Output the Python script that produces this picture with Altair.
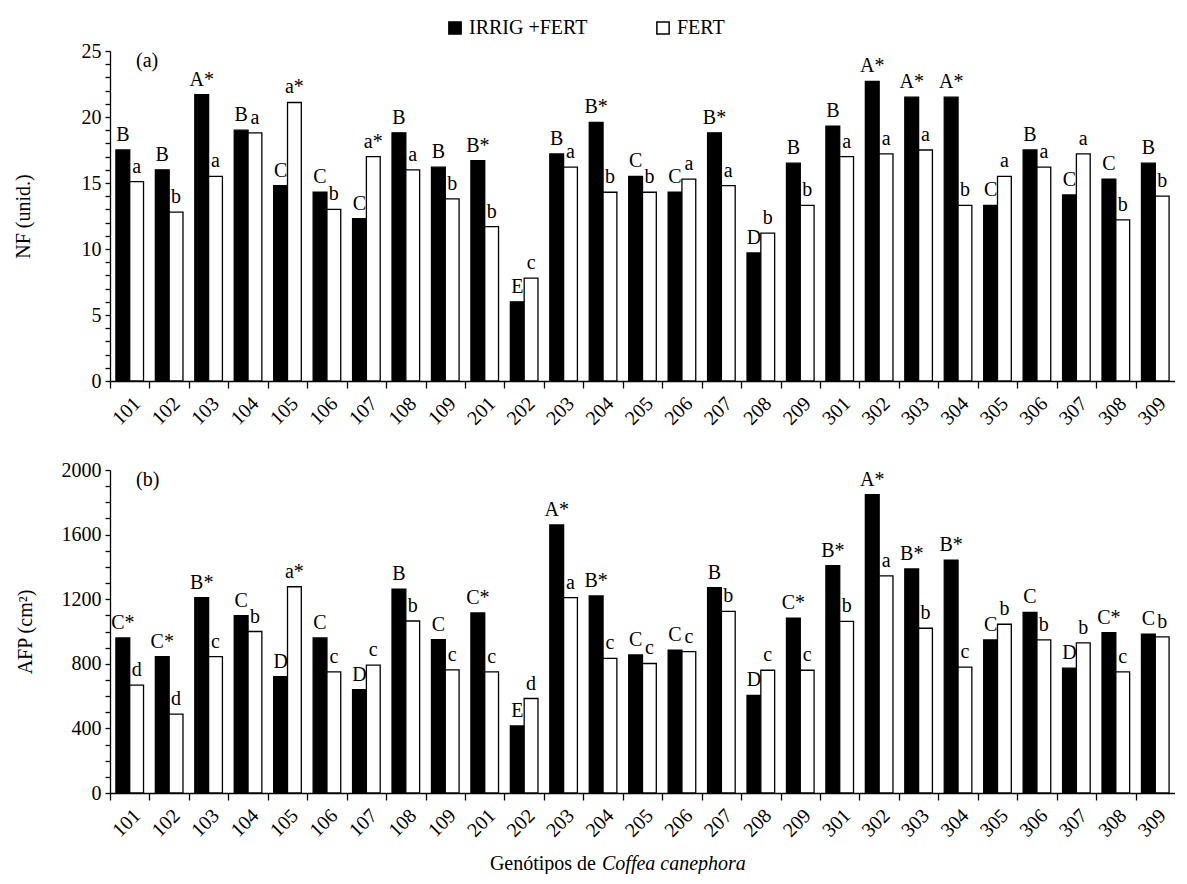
import altair as alt
import pandas as pd

FONT = "Liberation Serif"
FS = 20

genotypes = ["101", "102", "103", "104", "105", "106", "107", "108", "109",
             "201", "202", "203", "204", "205", "206", "207", "208", "209",
             "301", "302", "303", "304", "305", "306", "307", "308", "309"]
treatments = ["IRRIG +FERT", "FERT"]

nf_irrig = [17.5, 16.0, 21.7, 19.0, 14.8, 14.3, 12.3, 18.8, 16.2,
            16.7, 6.0, 17.2, 19.6, 15.5, 14.3, 18.8, 9.7, 16.5,
            19.3, 22.7, 21.5, 21.5, 13.3, 17.5, 14.1, 15.3, 16.5]
nf_fert = [15.1, 12.8, 15.5, 18.8, 21.1, 13.0, 17.0, 16.0, 13.8,
           11.7, 7.8, 16.2, 14.3, 14.3, 15.3, 14.8, 11.2, 13.3,
           17.0, 17.2, 17.5, 13.3, 15.5, 16.2, 17.2, 12.2, 14.0]
nf_lab_irrig = ["B", "B", "A*", "B", "C", "C", "C", "B", "B",
                "B*", "E", "B", "B*", "C", "C", "B*", "D", "B",
                "B", "A*", "A*", "A*", "C", "B", "C", "C", "B"]
nf_lab_fert = ["a", "b", "a", "a", "a*", "b", "a*", "a", "b",
               "b", "c", "a", "b", "b", "a", "a", "b", "b",
               "a", "a", "a", "b", "a", "a", "a", "b", "b"]

afp_irrig = [960, 845, 1210, 1098, 720, 960, 640, 1263, 950,
             1115, 415, 1660, 1220, 855, 885, 1272, 605, 1083,
             1407, 1848, 1387, 1442, 948, 1118, 773, 993, 983]
afp_fert = [668, 488, 845, 1000, 1277, 750, 792, 1065, 762,
            750, 585, 1210, 833, 802, 875, 1125, 760, 760,
            1063, 1345, 1020, 780, 1045, 948, 930, 750, 967]
afp_lab_irrig = ["C*", "C*", "B*", "C", "D", "C", "D", "B", "C",
                 "C*", "E", "A*", "B*", "C", "C", "B", "D", "C*",
                 "B*", "A*", "B*", "B*", "C", "C", "D", "C*", "C"]
afp_lab_fert = ["d", "d", "c", "b", "a*", "c", "c", "b", "c",
                "c", "d", "a", "c", "c", "c", "b", "c", "c",
                "b", "a", "b", "c", "b", "b", "b", "c", "b"]

W = 1065
STEP = W / 27.0


def long_df(irrig, fert, lab_i, lab_f):
    rows = []
    for g, v, l in zip(genotypes, irrig, lab_i):
        rows.append({"gen": g, "trat": treatments[0], "val": v, "lab": l})
    for g, v, l in zip(genotypes, fert, lab_f):
        rows.append({"gen": g, "trat": treatments[1], "val": v, "lab": l})
    return pd.DataFrame(rows)


def panel(df, ymax, ystep, labstep, ytitle, tag, height, title_pad, legend, bottom):
    x = alt.X("gen:N", sort=genotypes,
              scale=alt.Scale(domain=genotypes, paddingInner=0.3, paddingOuter=0.15),
              axis=alt.Axis(title=None, labelAngle=-45, tickOffset=-STEP / 2,
                            labelOffset=STEP / 2, tickSize=7, labelPadding=5))
    xo = alt.XOffset("trat:N", sort=treatments, scale=alt.Scale(domain=treatments))
    y = alt.Y("val:Q", scale=alt.Scale(domain=[0, ymax], nice=False),
              axis=alt.Axis(title=ytitle, values=list(range(0, ymax + 1, ystep)),
                            labelExpr=f"datum.value % {labstep} == 0 ? datum.label : ''",
                            format="d", tickSize=5, labelPadding=4,
                            titlePadding=title_pad))
    if legend:
        fill = alt.Fill("trat:N", sort=treatments,
                        scale=alt.Scale(domain=treatments, range=["black", "white"]),
                        legend=alt.Legend(orient="none", legendX=335, legendY=-33,
                                          direction="horizontal", title=None,
                                          symbolType="square", symbolSize=150,
                                          symbolStrokeColor="black", symbolStrokeWidth=1.5,
                                          labelFont=FONT, labelFontSize=FS,
                                          columnPadding=65, labelLimit=0))
    else:
        fill = alt.Fill("trat:N", sort=treatments,
                        scale=alt.Scale(domain=treatments, range=["black", "white"]),
                        legend=None)
    base = alt.Chart(df)
    bars = base.mark_bar(stroke="black", strokeWidth=1.3).encode(x=x, xOffset=xo, y=y, fill=fill)
    texts = base.mark_text(baseline="bottom", dy=-5, font=FONT, fontSize=FS,
                           color="black").encode(x=x, xOffset=xo, y=y, text="lab:N")
    tag_t = alt.Chart(pd.DataFrame({"t": [tag]})).mark_text(
        align="left", baseline="top", font=FONT, fontSize=FS, color="black"
    ).encode(text="t:N", x=alt.value(26), y=alt.value(0))
    layers = [bars, texts, tag_t]
    if bottom:
        t1 = alt.Chart(pd.DataFrame({"t": ["Genótipos de"]})).mark_text(
            align="right", baseline="alphabetic", font=FONT, fontSize=FS, color="black"
        ).encode(text="t:N", x=alt.value(486), y=alt.value(height + 77))
        t2 = alt.Chart(pd.DataFrame({"t": ["Coffea canephora"]})).mark_text(
            align="left", baseline="alphabetic", font=FONT, fontSize=FS,
            fontStyle="italic", color="black"
        ).encode(text="t:N", x=alt.value(492), y=alt.value(height + 77))
        layers += [t1, t2]
    return alt.layer(*layers).properties(width=W, height=height)


df_a = long_df(nf_irrig, nf_fert, nf_lab_irrig, nf_lab_fert)
df_b = long_df(afp_irrig, afp_fert, afp_lab_irrig, afp_lab_fert)

pa = panel(df_a, 25, 1, 5, "NF (unid.)", "(a)", 330, 48, True, False)
pb = panel(df_b, 2000, 100, 400, "AFP (cm²)", "(b)", 323, 26, False, True)

chart = alt.vconcat(pa, pb, spacing=31).resolve_legend(fill="independent").properties(
    padding={"left": 5, "top": 10, "right": 0, "bottom": 0}
).configure_axis(
    labelFont=FONT, titleFont=FONT, labelFontSize=FS, titleFontSize=FS,
    titleFontWeight="normal", domainColor="black", tickColor="black",
    labelColor="black", titleColor="black", grid=False, domainWidth=1.3, tickWidth=1.3
).configure_view(strokeWidth=0)

chart.save("out.html", embed_options={"renderer": "svg", "actions": False})
